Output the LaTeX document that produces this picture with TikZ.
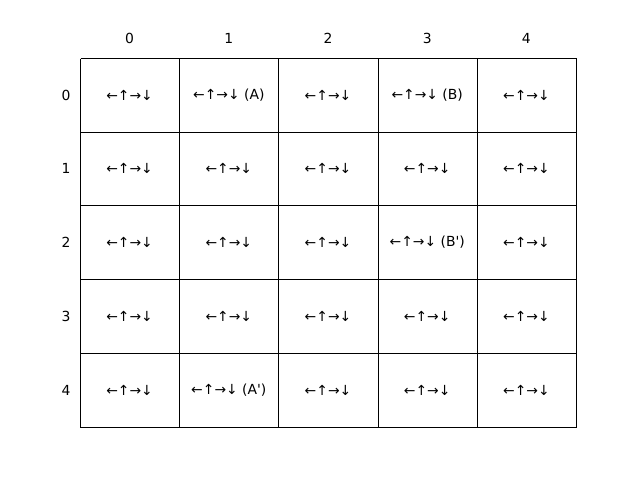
\documentclass[tikz,border=0pt]{standalone}
\usepackage{fontspec}
\setmainfont{DejaVu Sans}
\usepackage{tikz}

\tikzset{cell/.style={inner sep=0.75pt,font=\fontsize{10}{12}\selectfont},
	cellbox/.style={line width=1.1pt}}

\begin{document}
\begin{tikzpicture}[x=0.72pt,y=0.72pt,yscale=-1]
	\useasboundingbox (0,0) rectangle (640,480);
	
	%Shape: Grid
	\foreach \gx in {80.5,179.5,278.5,378.5,477.5,576.5}
		\draw [cellbox] (\gx,58.5) -- (\gx,427.5);
	\foreach \gy in {58.5,132.5,205.5,279.5,353.5,427.5}
		\draw [cellbox] (80.5,\gy) -- (576.5,\gy);
	
	% Column labels
	\node [cell] (c0) at (129.6,38) {0};
	\node [cell] (c1) at (228.8,38) {1};
	\node [cell] (c2) at (328,38) {2};
	\node [cell] (c3) at (427.2,38) {3};
	\node [cell] (c4) at (526.4,38) {4};
	% Row labels
	\node [cell] (r0) at (66,95) {0};
	\node [cell] (r1) at (66,168.8) {1};
	\node [cell] (r2) at (66,242.6) {2};
	\node [cell] (r3) at (66,316.4) {3};
	\node [cell] (r4) at (66,390.2) {4};
	
	% Text Node: row 0
	\node [cell] (a00) at (129.6,95) {←↑→↓};
	\node [cell] (a01) at (228.8,95) {←↑→↓ (A)};
	\node [cell] (a02) at (328,95) {←↑→↓};
	\node [cell] (a03) at (427.2,95) {←↑→↓ (B)};
	\node [cell] (a04) at (526.4,95) {←↑→↓};
	% Text Node: row 1
	\node [cell] (a10) at (129.6,168.8) {←↑→↓};
	\node [cell] (a11) at (228.8,168.8) {←↑→↓};
	\node [cell] (a12) at (328,168.8) {←↑→↓};
	\node [cell] (a13) at (427.2,168.8) {←↑→↓};
	\node [cell] (a14) at (526.4,168.8) {←↑→↓};
	% Text Node: row 2
	\node [cell] (a20) at (129.6,242.6) {←↑→↓};
	\node [cell] (a21) at (228.8,242.6) {←↑→↓};
	\node [cell] (a22) at (328,242.6) {←↑→↓};
	\node [cell] (a23) at (427.2,242.6) {←↑→↓ (B\textquotesingle)};
	\node [cell] (a24) at (526.4,242.6) {←↑→↓};
	% Text Node: row 3
	\node [cell] (a30) at (129.6,316.4) {←↑→↓};
	\node [cell] (a31) at (228.8,316.4) {←↑→↓};
	\node [cell] (a32) at (328,316.4) {←↑→↓};
	\node [cell] (a33) at (427.2,316.4) {←↑→↓};
	\node [cell] (a34) at (526.4,316.4) {←↑→↓};
	% Text Node: row 4
	\node [cell] (a40) at (129.6,390.2) {←↑→↓};
	\node [cell] (a41) at (228.8,390.2) {←↑→↓ (A\textquotesingle)};
	\node [cell] (a42) at (328,390.2) {←↑→↓};
	\node [cell] (a43) at (427.2,390.2) {←↑→↓};
	\node [cell] (a44) at (526.4,390.2) {←↑→↓};
	
\end{tikzpicture}
\end{document}
